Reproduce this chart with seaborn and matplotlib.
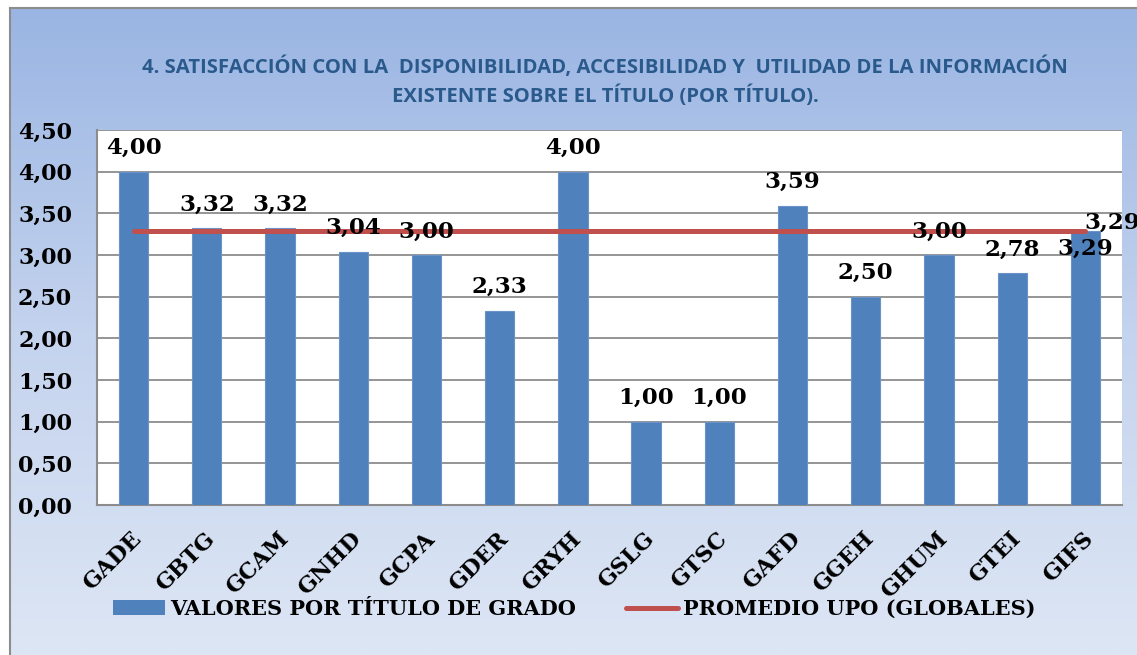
import numpy as np
import matplotlib
matplotlib.use("Agg")
import matplotlib.pyplot as plt
import matplotlib.transforms as mtransforms
from matplotlib import font_manager
from matplotlib.colors import LinearSegmentedColormap
from matplotlib.patches import Patch
from matplotlib.lines import Line2D
from matplotlib.ticker import FuncFormatter, FixedLocator
import seaborn as sns

# ---------------- data ----------------
titulos = ["GADE", "GBTG", "GCAM", "GNHD", "GCPA", "GDER", "GRYH",
           "GSLG", "GTSC", "GAFD", "GGEH", "GHUM", "GTEI", "GIFS"]
valores = [4.00, 3.32, 3.32, 3.04, 3.00, 2.33, 4.00,
           1.00, 1.00, 3.59, 2.50, 3.00, 2.78, 3.29]
promedio = [3.29, 3.29, 3.29, 3.29, 3.29, 3.29, 3.29,
            3.29, 3.29, 3.29, 3.29, 3.29, 3.29, 3.29]
yticks = [0.0, 0.5, 1.0, 1.5, 2.0, 2.5, 3.0, 3.5, 4.0, 4.5]
titulo = ("4. SATISFACCIÓN CON LA  DISPONIBILIDAD, ACCESIBILIDAD Y  UTILIDAD DE LA INFORMACIÓN\n"
          "EXISTENTE SOBRE EL TÍTULO (POR TÍTULO).")
serie_barras = "VALORES POR TÍTULO DE GRADO"
serie_linea = "PROMEDIO UPO (GLOBALES)"

# ---------------- style ----------------
sns.set_style("white")
available = {f.name for f in font_manager.fontManager.ttflist}
def pick(*names):
    for n in names:
        if n in available:
            return n
    return "DejaVu Sans"
title_font = pick("Liberation Sans Narrow", "DejaVu Sans Condensed", "Open Sans", "Liberation Sans")
serif = ["DejaVu Serif"]
plt.rcParams["font.family"] = serif
plt.rcParams["text.color"] = "black"
plt.rcParams["xtick.labelcolor"] = "black"
plt.rcParams["ytick.labelcolor"] = "black"

BAR = "#4F81BD"
LINE = "#C0504D"
GRID = "#8C8C8C"

W, H = 1137, 655
fig = plt.figure(figsize=(W / 100, H / 100), dpi=100)
fig.patch.set_facecolor("white")

# background gradient panel
bg = fig.add_axes([10 / W, 0, 1 - 10 / W, (H - 8) / H])
cmap = LinearSegmentedColormap.from_list("bg", ["#9AB5E3", "#C4D3EE", "#DDE6F4"])
grad = np.linspace(0, 1, 256).reshape(-1, 1)
bg.imshow(grad, aspect="auto", cmap=cmap, extent=[0, 1, 0, 1], origin="upper")
bg.set_xticks([]); bg.set_yticks([])
for s in ["right", "bottom"]:
    bg.spines[s].set_visible(False)
for s in ["left", "top"]:
    bg.spines[s].set_color(GRID)
    bg.spines[s].set_linewidth(1.5)
bg.set_zorder(0)

# main axes (pixel box: x 97..1122, y 130..505)
ax = fig.add_axes([97 / W, (H - 505) / H, (1122 - 97) / W, (505 - 130) / H])
ax.set_zorder(1)
ax.set_facecolor("white")

sns.barplot(x=titulos, y=valores, color=BAR, width=0.4, ax=ax, saturation=1,
            edgecolor="#6A93C8", linewidth=0.8, zorder=3)
xs = np.arange(len(titulos))
ax.plot(xs, promedio, color=LINE, lw=3.6, solid_capstyle="round", zorder=4)

ax.set_ylim(0, 4.5)
ax.set_xlim(-0.5, len(titulos) - 0.5)
ax.yaxis.set_major_locator(FixedLocator(yticks))
ax.yaxis.set_major_formatter(FuncFormatter(lambda v, p: f"{v:.2f}".replace(".", ",")))
ax.grid(axis="y", color=GRID, lw=1.3, zorder=0)
ax.set_axisbelow(True)
for s in ["top", "right"]:
    ax.spines[s].set_visible(False)
for s in ["left", "bottom"]:
    ax.spines[s].set_color(GRID)
    ax.spines[s].set_linewidth(1.5)
ax.set_xlabel(""); ax.set_ylabel("")

ax.tick_params(axis="y", which="major", direction="out", length=6, width=1.3,
               color=GRID, pad=12, labelsize=16, labelcolor="black")
for lab in ax.get_yticklabels():
    lab.set_fontweight("bold")

# x: boundary ticks as minor ticks, labels at centers
ax.set_xticks(np.arange(-0.5, len(titulos)), minor=True)
ax.tick_params(axis="x", which="minor", direction="out", length=6, width=1.3, color=GRID)
ax.tick_params(axis="x", which="major", length=0, pad=22, labelsize=16, labelcolor="black")
offset = mtransforms.ScaledTranslation(5 / 100, 0, fig.dpi_scale_trans)
for lab in ax.get_xticklabels():
    lab.set_rotation(45)
    lab.set_ha("right")
    lab.set_va("center")
    lab.set_rotation_mode("anchor")
    lab.set_fontweight("bold")
    lab.set_transform(lab.get_transform() + offset)

# data labels
fmt = lambda v: f"{v:.2f}".replace(".", ",")
for i, v in enumerate(valores):
    dy = 17 if i < len(valores) - 1 else -13
    ax.annotate(fmt(v), (i, v), xytext=(0, dy), textcoords="offset points",
                ha="center", va="center", fontsize=16.5, fontweight="bold",
                color="black", annotation_clip=False, zorder=6)
ax.annotate(fmt(promedio[-1]), (xs[-1], promedio[-1]), xytext=(-1, 6),
            textcoords="offset points", ha="left", va="center", fontsize=16.5,
            fontweight="bold", color="black", annotation_clip=False, zorder=6)

# title
fig.text(605 / W, 1 - 82 / H, titulo, ha="center", va="center", color="#2A5A8C",
         fontsize=14.6, fontweight="bold", family=[title_font, "DejaVu Sans"],
         linespacing=1.45)

# legend
handles = [Patch(facecolor=BAR, edgecolor="none"),
           Line2D([0], [0], color=LINE, lw=3.6, solid_capstyle="round")]
leg = fig.legend(handles, [serie_barras, serie_linea], loc="center left",
                 bbox_to_anchor=(113 / W, 1 - 609 / H), ncol=2, frameon=False,
                 prop={"family": serif, "weight": "bold", "size": 15},
                 handlelength=2.5, handleheight=0.7, handletextpad=0.25,
                 columnspacing=2.4, borderpad=0, borderaxespad=0)
for t in leg.get_texts():
    t.set_color("black")

fig.savefig("out.png", dpi=100, facecolor="white")
